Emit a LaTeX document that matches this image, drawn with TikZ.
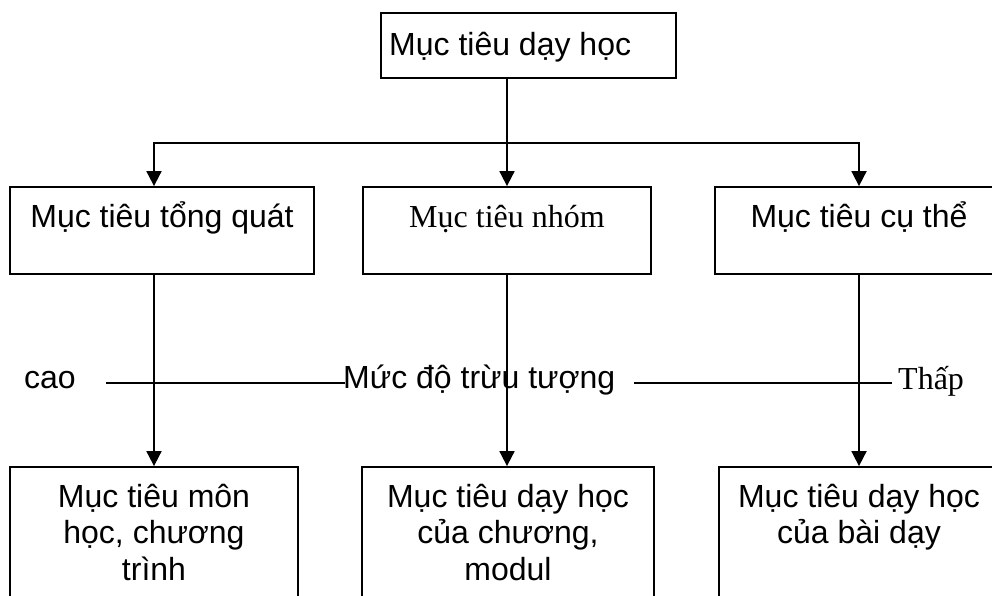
\documentclass[tikz,border=0pt]{standalone}
\usepackage{fontspec}
\setmainfont{Liberation Sans}
\newfontfamily\serifface{Liberation Serif}
\usetikzlibrary{arrows.meta}
\begin{document}
\begin{tikzpicture}[x=1pt,y=-1pt,
  box/.style={draw, line width=1.8pt, rectangle, inner sep=0pt},
  lbl/.style={inner sep=0pt, font=\fontsize{32}{36.5}\selectfont},
  tlbl/.style={inner sep=0pt, font=\fontsize{32}{36.5}\selectfont\serifface},
  link/.style={line width=1.8pt},
  arr/.style={line width=1.8pt, -{Triangle[length=15pt,width=15pt]}}]
\useasboundingbox (0,0) rectangle (992,595);
\clip (0,0) rectangle (992,595);

% top box
\node[box, minimum width=295pt, minimum height=65pt] (top) at (528.5,45.5) {};
\node[lbl, anchor=base west] (topT) at (389,55) {Mục tiêu dạy học};

% second row
\node[box, minimum width=304pt, minimum height=87pt] (m1) at (162,230.5) {};
\node[box, minimum width=288pt, minimum height=87pt] (m2) at (507,230.5) {};
\node[box, minimum width=288pt, minimum height=87pt] (m3) at (859,230.5) {};
\node[lbl, anchor=base] (m1T) at (162,227) {Mục tiêu tổng quát};
\node[tlbl, anchor=base] (m2T) at (507,227) {Mục tiêu nhóm};
\node[lbl, anchor=base] (m3T) at (859,227) {Mục tiêu cụ thể};

% bottom row (multi-line labels are placed by the baseline of their last line)
\node[box, minimum width=288pt, minimum height=158pt] (b1) at (154,546) {};
\node[box, minimum width=292pt, minimum height=158pt] (b2) at (508,546) {};
\node[box, minimum width=280pt, minimum height=158pt] (b3) at (859,546) {};
\node[lbl, anchor=base, align=center] (b1T) at (154,580) {Mục tiêu môn\\học, chương\\trình};
\node[lbl, anchor=base, align=center] (b2T) at (508,580) {Mục tiêu dạy học\\của chương,\\modul};
\node[lbl, anchor=base, align=center] (b3T) at (859,543.5) {Mục tiêu dạy học\\của bài dạy};

% branching from the top box
\coordinate (hub) at (507,143);
\draw[link] (hub |- top.south) -- (hub);
\draw[arr] (hub) -| (b1.north |- m1.north);
\draw[arr] (hub) -- (m2.north);
\draw[arr] (hub) -| (m3.north);

% down to the bottom row
\draw[arr] (b1.north |- m1.south) -- (b1.north);
\draw[arr] (m2.south) -- (m2.south |- b2.north);
\draw[arr] (m3.south) -- (b3.north);

% abstraction scale
\node[lbl, anchor=base] (hi) at (50,388) {cao};
\node[lbl, anchor=base west] (scale) at (343,388) {Mức độ trừu tượng};
\node[tlbl, anchor=base west] (lo) at (898,389) {Thấp};
\coordinate (s1) at (106,383);
\coordinate (s2) at (345,383);
\coordinate (s3) at (634,383);
\coordinate (s4) at (892,383);
\draw[link] (s1) -- (s2);
\draw[link] (s3) -- (s4);
\end{tikzpicture}
\end{document}
